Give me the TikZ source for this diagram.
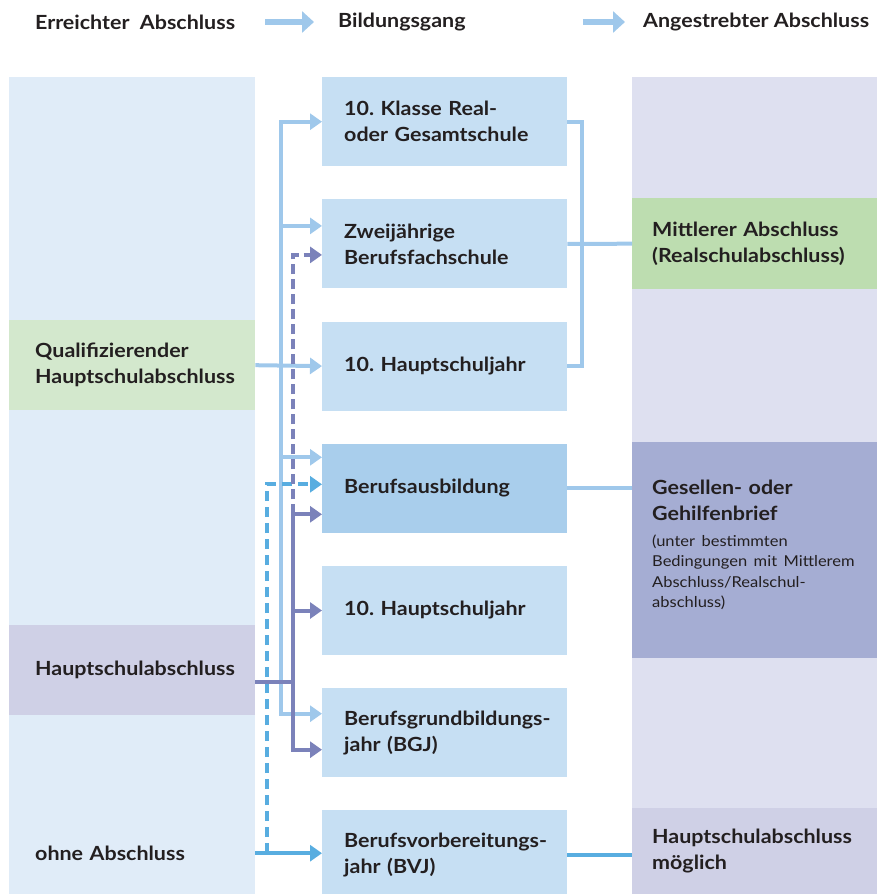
\documentclass[tikz,border=0pt]{standalone}
\usepackage{fontspec}
\setmainfont{Lato}[FakeStretch=1.1]
\usepackage{xcolor}
\usetikzlibrary{positioning,arrows.meta}
\frenchspacing

\definecolor{txtgray}{HTML}{231F20}
\definecolor{colleft}{HTML}{E0ECF8}
\definecolor{colright}{HTML}{DEE0F0}
\definecolor{colqual}{HTML}{D3E8CD}
\definecolor{colhsa}{HTML}{CFD0E6}
\definecolor{colmid}{HTML}{C6DFF3}
\definecolor{colausb}{HTML}{A9CEEC}
\definecolor{colmittl}{HTML}{BDDDB0}
\definecolor{colgesell}{HTML}{A5ADD3}
\definecolor{colhsm}{HTML}{CFD0E6}
\definecolor{collb}{HTML}{9FC8EB}
\definecolor{colpu}{HTML}{7B82BA}
\definecolor{colmb}{HTML}{58ADE0}

\begin{document}
\begin{tikzpicture}[x=1pt,y=-1pt,
    >={Triangle[length=12pt,width=16pt]},
    every node/.style={text=txtgray,font=\fontsize{19.5}{26}\selectfont\bfseries},
    hdr/.style={anchor=west,inner sep=0pt},
    hdrarrow/.style={draw=collb,line width=6pt,-{Triangle[length=12pt,width=21pt]}},
    midbox/.style={fill=colmid,minimum width=245pt,minimum height=89pt,text width=201pt,
      inner xsep=22pt,inner ysep=0pt,align=left,anchor=north west},
    leftbox/.style={minimum width=246pt,minimum height=90pt,text width=194pt,
      inner xsep=26pt,inner ysep=0pt,align=left,anchor=north west},
    rightbox/.style={minimum width=245pt,text width=205pt,inner xsep=20pt,inner ysep=0pt,
      align=left,anchor=north west},
    lbline/.style={draw=collb,line width=4pt},
    puline/.style={draw=colpu,line width=4pt},
    mbline/.style={draw=colmb,line width=4pt}]

\useasboundingbox (0,0) rectangle (877,894);

% Spalten
\fill[colleft] (9,77) rectangle (255,894);
\fill[colright] (632,77) rectangle (877,894);

% Kopfzeile
\node[hdr] (h1) at (35,22) {Erreichter~ Abschluss};
\node[hdr] (h2) at (338,22) {Bildungsgang};
\node[hdr] (h3) at (643,22) {Angestrebter Abschluss};
\draw[hdrarrow,shorten <=30pt,shorten >=24pt] (h1.east) -- (h2.west);
\draw[hdrarrow,shorten <=117pt,shorten >=18pt] (h2.east) -- (h3.west);

% Erreichter Abschluss
\node[leftbox,fill=colqual] (qual) at (9,320) {Qualifizierender\\Hauptschulabschluss};
\node[leftbox,fill=colhsa] (hsa) at (9,625) {Hauptschulabschluss};
\node[leftbox] (ohne) at (9,808) {ohne Abschluss};

% Bildungsgang
\node[midbox] (m1) at (322,77) {10. Klasse Real-\\oder Gesamtschule};
\node[midbox,below=32.8pt of m1] (m2) {Zweijährige\\Berufsfachschule};
\node[midbox,below=32.8pt of m2] (m3) {10. Hauptschuljahr};
\node[midbox,fill=colausb,below=32.8pt of m3] (m4) {Berufsausbildung};
\node[midbox,below=32.8pt of m4] (m5) {10. Hauptschuljahr};
\node[midbox,below=32.8pt of m5] (m6) {\mbox{Berufsgrundbildungs-}\\jahr (BGJ)};
\node[midbox,below=32.8pt of m6] (m7) {\mbox{Berufsvorbereitungs-}\\jahr (BVJ)};

% Angestrebter Abschluss
\node[rightbox,fill=colmittl,minimum height=91pt] (mittl) at (632,198)
  {Mittlerer Abschluss\\(Realschulabschluss)};
\node[rightbox,fill=colgesell,minimum height=216pt] (gesell) at (632,442)
  {Gesellen- oder\\Gehilfenbrief\par\vspace{5pt}
   \fontsize{15}{20.5}\selectfont\mdseries(unter bestimmten\\Bedingungen mit Mittlerem\\Abschluss/Realschul-\\abschluss)\par\vspace{10pt}};
\node[rightbox,fill=colhsm,minimum height=86pt] (hsm) at (632,808)
  {Hauptschulabschluss\\möglich};

% Verbindungen rechts
\coordinate (rb) at (582,0);
\draw[lbline] (m1.east) -| (rb |- m3.east) -- (m3.east);
\draw[lbline] (m2.east) -- (mittl.west);
\draw[lbline] (m4.east) -- (m4.east -| gesell.west);
\draw[mbline] (m7.east) -- (m7.east -| hsm.west);

% Verbindungen links
\coordinate (bx) at (267,0);
\coordinate (lx) at (281,0);
\coordinate (px) at (293,0);
\coordinate (m2lb) at ([yshift=18pt]m2.west);
\coordinate (m4lb) at ([yshift=31pt]m4.west);
\coordinate (m6lb) at ([yshift=19pt]m6.west);
\coordinate (m2pu) at ([yshift=-11pt]m2.west);
\coordinate (m4pu) at ([yshift=-26pt]m4.west);
\coordinate (m6pu) at ([yshift=-17pt]m6.west);
\coordinate (m4mb) at ([yshift=4pt]m4.west);
\coordinate (hsap) at ([yshift=-12pt]hsa.east);

% hellblau: qualifizierender Hauptschulabschluss
\draw[lbline,<->] (m1.west) -| (lx |- m6lb) -- (m6lb);
\draw[lbline,->] (lx |- m2lb) -- (m2lb);
\draw[lbline,->] (lx |- m4lb) -- (m4lb);
\draw[lbline,->] (qual.east) -- (m3.west);

% blau: ohne Abschluss
\draw[mbline,->] (ohne.east) -- (m7.west |- ohne.east);
\draw[mbline,->,dash pattern=on 10pt off 6pt] (bx |- ohne.east) |- (m4mb);

% violett: Hauptschulabschluss
\draw[puline,->,dash pattern=on 10pt off 5pt] (px |- m4pu) -- (px |- m2pu) -- (m2pu);
\draw[puline,<->] (m4pu) -| (px |- m6pu) -- (m6pu);
\draw[puline,->] (px |- m5.west) -- (m5.west);
\draw[puline] (hsap) -- (px |- hsap);
\end{tikzpicture}
\end{document}
